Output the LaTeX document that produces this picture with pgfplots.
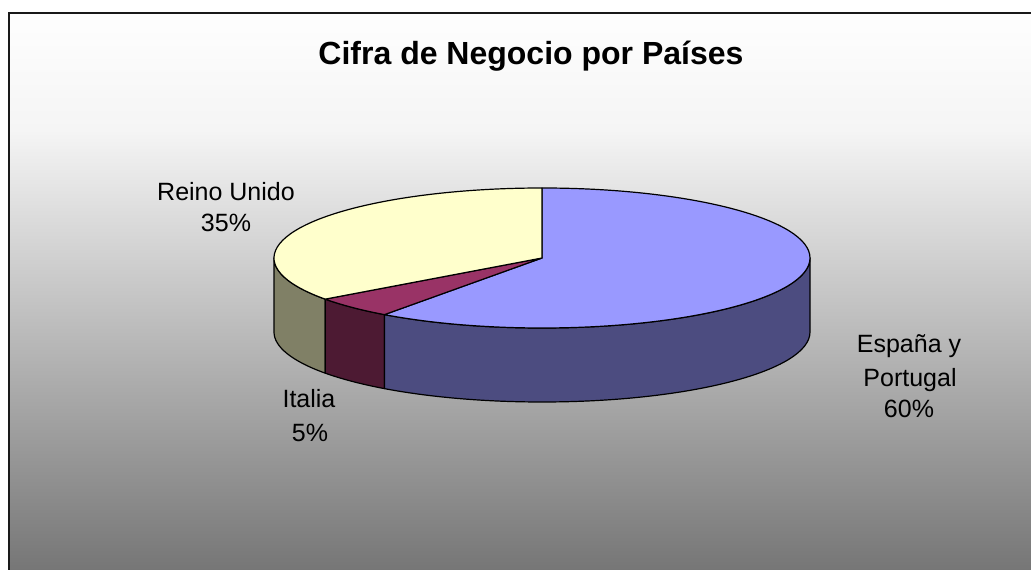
\documentclass[border=0pt]{standalone}
\usepackage{pgfplots}
\pgfplotsset{compat=1.18}
\usepackage{fontspec}
\setmainfont{Liberation Sans}
\definecolor{blueTop}{RGB}{153,153,255}
\definecolor{blueSide}{RGB}{76,76,128}
\definecolor{redTop}{RGB}{153,51,102}
\definecolor{redSide}{RGB}{77,26,51}
\definecolor{yelTop}{RGB}{255,255,204}
\definecolor{yelSide}{RGB}{128,128,102}
\definecolor{bg0}{RGB}{254,254,254}
\definecolor{bg1}{RGB}{245,245,245}
\definecolor{bg2}{RGB}{118,118,118}
\definecolor{frame}{RGB}{26,26,26}
\begin{document}
\begin{tikzpicture}
% data (percent), clockwise from 12 o'clock
\def\vA{60}% Espana y Portugal
\def\vB{5}% Italia
\def\vC{35}% Reino Unido
% geometry of the 3D pie (pixel units, y up)
\def\cx{542}\def\cy{312}\def\rx{268}\def\ry{70}\def\dep{74}
\pgfmathsetmacro\tA{90}
\pgfmathsetmacro\tB{\tA-3.6*\vA}
\pgfmathsetmacro\tC{\tB-3.6*\vB}
\pgfmathsetmacro\tD{\tC-3.6*\vC}
\pgfmathsetmacro\xB{\cx+\rx*cos(\tB)}\pgfmathsetmacro\yB{\cy+\ry*sin(\tB)}
\pgfmathsetmacro\xC{\cx+\rx*cos(\tC)}\pgfmathsetmacro\yC{\cy+\ry*sin(\tC)}
\pgfmathsetmacro\xL{\cx-\rx}\pgfmathsetmacro\xR{\cx+\rx}
\pgfmathsetmacro\yTop{\cy+\ry}
\begin{axis}[x=1pt,y=1pt,xmin=0,xmax=1031,ymin=0,ymax=570,hide axis,clip=true,scale only axis]
% background
\fill[top color=bg0,bottom color=bg1,draw=none] (axis cs:8,440) rectangle (axis cs:1031,557);
\fill[top color=bg1,bottom color=bg2,draw=none] (axis cs:8,0) rectangle (axis cs:1031,440.5);
\draw[frame,line width=2pt] (axis cs:8.5,0) -- (axis cs:8.5,557) -- (axis cs:1031,557);
\begin{scope}[line width=1.2pt,line join=round,draw=black]
% side faces
\filldraw[fill=yelSide] (axis cs:\xL,\cy) arc[start angle=-180,end angle=\tC,x radius=\rx pt,y radius=\ry pt] -- ++(0pt,-\dep pt) arc[start angle=\tC,end angle=-180,x radius=\rx pt,y radius=\ry pt] -- cycle;
\filldraw[fill=redSide] (axis cs:\xC,\yC) arc[start angle=\tC,end angle=\tB,x radius=\rx pt,y radius=\ry pt] -- ++(0pt,-\dep pt) arc[start angle=\tB,end angle=\tC,x radius=\rx pt,y radius=\ry pt] -- cycle;
\filldraw[fill=blueSide] (axis cs:\xB,\yB) arc[start angle=\tB,end angle=0,x radius=\rx pt,y radius=\ry pt] -- ++(0pt,-\dep pt) arc[start angle=0,end angle=\tB,x radius=\rx pt,y radius=\ry pt] -- cycle;
% top faces
\filldraw[fill=blueTop] (axis cs:\cx,\cy) -- (axis cs:\cx,\yTop) arc[start angle=\tA,end angle=\tB,x radius=\rx pt,y radius=\ry pt] -- cycle;
\filldraw[fill=redTop] (axis cs:\cx,\cy) -- (axis cs:\xB,\yB) arc[start angle=\tB,end angle=\tC,x radius=\rx pt,y radius=\ry pt] -- cycle;
\filldraw[fill=yelTop] (axis cs:\cx,\cy) -- (axis cs:\xC,\yC) arc[start angle=\tC,end angle=\tD,x radius=\rx pt,y radius=\ry pt] -- cycle;
\end{scope}
% title
\node[anchor=base,font=\fontsize{32}{38}\selectfont\bfseries] at (axis cs:531,505) {Cifra de Negocio por Países};
% labels
\begin{scope}[every node/.style={anchor=base,font=\fontsize{25}{30}\selectfont,inner sep=0pt}]
\node at (axis cs:226,369) {Reino Unido};
\node at (axis cs:226,338) {35\%};
\node at (axis cs:909,217) {España y};
\node at (axis cs:910,183) {Portugal};
\node at (axis cs:909,152) {60\%};
\node at (axis cs:309,162) {Italia};
\node at (axis cs:310,128) {5\%};
\end{scope}
\end{axis}
\pgfresetboundingbox
\useasboundingbox (current axis.south west) rectangle (current axis.north east);
\end{tikzpicture}
\end{document}
